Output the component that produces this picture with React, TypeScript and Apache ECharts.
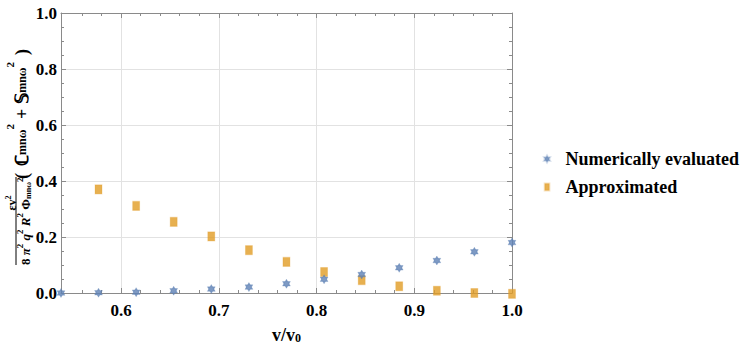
import React, { useEffect, useRef } from "react";
import * as echarts from "echarts";

// ---- data ----
const xValues = [0.5385, 0.5769, 0.6154, 0.6538, 0.6923, 0.7308, 0.7692, 0.8077, 0.8462, 0.8846, 0.9231, 0.9615, 1.0];
const numericalValues = [0.0, 0.001, 0.003, 0.008, 0.014, 0.021, 0.033, 0.049, 0.066, 0.09, 0.116, 0.147, 0.18];
const approximatedValues = [null, 0.37, 0.311, 0.254, 0.202, 0.153, 0.111, 0.075, 0.046, 0.024, 0.008, 0.0, -0.003];
const xMajorTicks = [0.6, 0.7, 0.8, 0.9, 1.0];
const xMinorTicks = [0.56, 0.58, 0.62, 0.64, 0.66, 0.68, 0.72, 0.74, 0.76, 0.78, 0.82, 0.84, 0.86, 0.88, 0.92, 0.94, 0.96, 0.98];
const seriesNames = ["Numerically evaluated", "Approximated"];

const FONT = "Liberation Serif, DejaVu Serif, serif";
const BLUE = "#5E81B5";
const ORANGE = "#E19C24";
const AXIS = "#8a8a8a";
const STAR = "path://M0,-10 L8.66,5 L-8.66,5 Z M0,10 L-8.66,-5 L8.66,-5 Z";
const RECT_ICON = "path://M0,0 L4,0 L4,6 L0,6 Z";

const rs = (size: number, lh: number, va: string, italic = false, padding?: number[]) => {
  const o: any = {
    fontSize: size,
    lineHeight: lh,
    verticalAlign: va,
    fontWeight: "bold",
    fontFamily: FONT,
    fontStyle: italic ? "italic" : "normal",
    fill: "#000",
    color: "#000",
  };
  if (padding) o.padding = padding;
  return o;
};

export default function App() {
  const ref = useRef<HTMLDivElement>(null);
  useEffect(() => {
    if (!ref.current) return;
    const chart = echarts.init(ref.current, null, { renderer: "svg" });
    const min = xValues[0];
    const max = 1.0;
    const baseX = (pos: string, ticks: number[], len: number, line: boolean) => ({
      type: "value",
      position: pos,
      min,
      max,
      axisLine: { show: line, onZero: false, lineStyle: { color: AXIS, width: 1 } },
      axisTick: { show: true, inside: true, length: len, customValues: ticks, lineStyle: { color: AXIS } },
      axisLabel: { show: false },
      splitLine: { show: false },
    });
    const numData = xValues.map((x, i) => [x, numericalValues[i]]);
    const apxData = xValues
      .map((x, i) => [x, approximatedValues[i]])
      .filter((d) => d[1] !== null);

    chart.setOption({
      animation: false,
      backgroundColor: "#fff",
      textStyle: { fontFamily: FONT },
      grid: { left: 61, right: 235, top: 13, bottom: 53, containLabel: false, outerBoundsMode: "none" },
      xAxis: [
        {
          ...baseX("bottom", xMajorTicks, 5, true),
          name: "{a|v/v}{b|0}",
          nameLocation: "middle",
          nameGap: 31,
          nameTextStyle: {
            fontFamily: FONT,
            fontWeight: "bold",
            rich: {
              a: rs(18, 20, "bottom"),
              b: rs(12, 12, "bottom"),
            },
          },
          axisLabel: {
            show: true,
            customValues: xMajorTicks,
            margin: 9,
            fontFamily: FONT,
            fontWeight: "bold",
            fontSize: 17,
            color: "#000",
            formatter: (v: number) => v.toFixed(1),
          },
          splitLine: { show: true, lineStyle: { color: "#e2e2e2", width: 1 } },
        },
        baseX("bottom", xMinorTicks, 3, false),
        baseX("top", xMajorTicks, 5, true),
        baseX("top", xMinorTicks, 3, false),
      ],
      yAxis: [
        {
          type: "value",
          position: "left",
          min: 0,
          max: 1,
          interval: 0.2,
          axisLine: { show: true, onZero: false, lineStyle: { color: AXIS } },
          axisTick: { show: true, inside: true, length: 5, lineStyle: { color: AXIS } },
          minorTick: { show: true, splitNumber: 4, length: 3, lineStyle: { color: AXIS } },
          axisLabel: {
            margin: 4,
            fontFamily: FONT,
            fontWeight: "bold",
            fontSize: 17,
            color: "#000",
            formatter: (v: number) => v.toFixed(1),
          },
          splitLine: { show: true, lineStyle: { color: "#e2e2e2", width: 1 } },
        },
        {
          type: "value",
          position: "right",
          min: 0,
          max: 1,
          interval: 0.2,
          axisLine: { show: true, onZero: false, lineStyle: { color: AXIS } },
          axisTick: { show: true, inside: true, length: 5, lineStyle: { color: AXIS } },
          minorTick: { show: true, splitNumber: 4, length: 3, lineStyle: { color: AXIS } },
          axisLabel: { show: false },
          splitLine: { show: false },
        },
      ],
      legend: {
        orient: "vertical",
        left: 538,
        top: 145,
        itemWidth: 27,
        itemHeight: 7,
        itemGap: 10,
        textStyle: { fontFamily: FONT, fontWeight: "bold", fontSize: 18, color: "#000", lineHeight: 18 },
        data: [
          { name: seriesNames[0], icon: STAR },
          { name: seriesNames[1], icon: RECT_ICON },
        ],
      },
      series: [
        {
          name: seriesNames[0],
          type: "scatter",
          data: numData,
          symbol: STAR,
          symbolKeepAspect: true,
          symbolSize: 9,
          clip: false,
          itemStyle: { color: BLUE, borderColor: "rgba(94,129,181,0.35)", borderWidth: 1 },
          z: 3,
        },
        {
          name: seriesNames[1],
          type: "scatter",
          data: apxData,
          symbol: "rect",
          symbolSize: [7, 9],
          clip: false,
          itemStyle: { color: ORANGE, borderColor: "rgba(225,156,36,0.35)", borderWidth: 1 },
          z: 2,
        },
      ],
      graphic: [
        {
          type: "group",
          x: 0,
          y: 265,
          rotation: Math.PI / 2,
          children: [
            {
              type: "line",
              shape: { x1: 0, y1: 16, x2: 88, y2: 16 },
              style: { stroke: "#000", lineWidth: 1 },
            },
            {
              type: "text",
              x: 62,
              y: 4,
              style: {
                text: "{m|εv}{s|2}",
                align: "center",
                verticalAlign: "top",
                font: "bold 12px " + FONT,
                rich: { m: rs(12, 14, "bottom"), s: rs(8, 8, "top") },
              },
            },
            {
              type: "text",
              x: 0,
              y: 15,
              style: {
                text: "{m|8 }{i|π}{s|2}{m| }{i|q}{s|2}{m| }{i|R}{s|2}{m| Φ}{b|mnω}{s|2}",
                align: "left",
                verticalAlign: "top",
                font: "bold 13px " + FONT,
                rich: {
                  m: rs(13, 17, "bottom"),
                  i: rs(13, 17, "bottom", true),
                  s: rs(9, 9, "top"),
                  b: rs(8, 8, "bottom"),
                },
              },
            },
            {
              type: "text",
              x: 84,
              y: 4.5,
              style: {
                text: "{p|(}{m|ℂ}{b|mnω}{s|2}{o|+}{m|𝕊}{b|mnω}{s|2}{q|)}",
                align: "left",
                verticalAlign: "top",
                font: "bold 18px " + FONT,
                rich: {
                  p: rs(18, 26, "bottom", false, [0, 7, 0, 2]),
                  q: rs(18, 26, "bottom", false, [0, 2, 0, 7]),
                  o: rs(18, 26, "bottom", false, [0, 5, 0, 5]),
                  m: rs(18, 26, "bottom"),
                  s: rs(11, 11, "top"),
                  b: rs(12, 12, "bottom", false, [0, 0, 3, 0]),
                },
              },
            },
          ],
        },
      ],
    });
    return () => chart.dispose();
  }, []);
  return (
    <div
      ref={ref}
      style={{ position: "absolute", left: 0, top: 0, width: 747, height: 346 }}
    />
  );
}
